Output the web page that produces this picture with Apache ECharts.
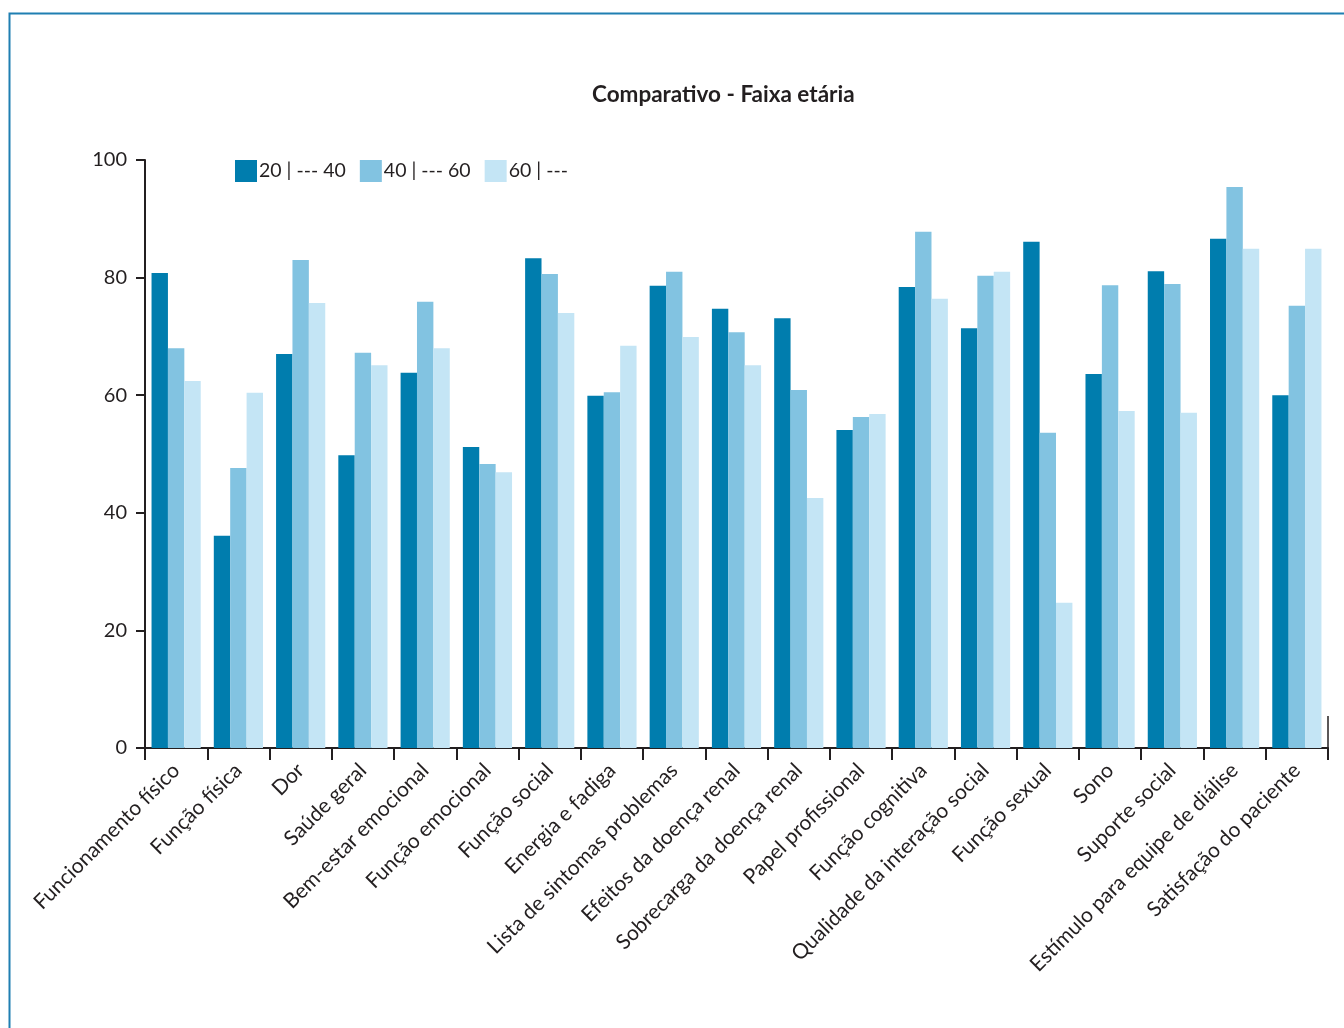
<!DOCTYPE html>
<html>
<head>
<meta charset="utf-8">
<script src="https://cdn.jsdelivr.net/npm/echarts@6/dist/echarts.min.js"></script>
<style>
html,body{margin:0;padding:0;background:#fff;}
#chart{width:1344px;height:1028px;}
</style>
</head>
<body>
<div id="chart"></div>
<script>
const categories = [
  'Funcionamento físico', 'Função física', 'Dor', 'Saúde geral', 'Bem-estar emocional',
  'Função emocional', 'Função social', 'Energia e fadiga', 'Lista de sintomas problemas',
  'Efeitos da doença renal', 'Sobrecarga da doença renal', 'Papel profissional',
  'Função cognitiva', 'Qualidade da interação social', 'Função sexual', 'Sono',
  'Suporte social', 'Estímulo para equipe de diálise', 'Satisfação do paciente'
];
const seriesNames = ['20 | --- 40', '40 | --- 60', '60 | ---'];
const age20to40 = [80.8, 36.1, 67.0, 49.8, 63.8, 51.2, 83.3, 59.9, 78.6, 74.7, 73.1, 54.1, 78.4, 71.4, 86.1, 63.6, 81.1, 86.6, 60.0];
const age40to60 = [68.0, 47.6, 83.0, 67.2, 75.9, 48.3, 80.6, 60.5, 81.0, 70.7, 60.9, 56.3, 87.8, 80.3, 53.6, 78.7, 78.9, 95.4, 75.2];
const age60plus = [62.4, 60.4, 75.7, 65.1, 68.0, 46.9, 74.0, 68.4, 69.9, 65.1, 42.5, 56.8, 76.4, 81.0, 24.7, 57.3, 57.0, 84.9, 84.9];
const yTicks = [0, 20, 40, 60, 80, 100];

const colors = ['#007DAE', '#82C3E1', '#C4E5F5'];
const font = 'Lato, "Open Sans", sans-serif';
const textColor = '#231f20';
const axisColor = '#231f20';

const chart = echarts.init(document.getElementById('chart'), null, {renderer: 'canvas'});
const seriesData = [age20to40, age40to60, age60plus];
chart.setOption({
  animation: false,
  backgroundColor: '#ffffff',
  title: {
    text: 'Comparativo - Faixa etária',
    left: 587,
    top: 78,
    textStyle: {fontFamily: font, fontSize: 22.5, fontWeight: 'bold', color: textColor}
  },
  legend: {
    data: seriesNames,
    left: 230,
    top: 155,
    itemWidth: 22,
    itemHeight: 22,
    itemGap: 14,
    icon: 'rect',
    textStyle: {fontFamily: font, fontSize: 19.5, color: textColor, padding: [0, 0, 0, -3]}
  },
  grid: {left: 145, right: 16, top: 160, bottom: 280, containLabel: false},
  xAxis: {
    type: 'category',
    data: categories,
    axisLine: {show: true, lineStyle: {color: axisColor, width: 2}},
    axisTick: {show: true, length: 12, alignWithLabel: false, lineStyle: {color: axisColor, width: 2}},
    axisLabel: {
      rotate: 45, interval: 0, margin: 19,
      fontFamily: font, fontSize: 21, color: textColor
    },
    splitLine: {show: false}
  },
  yAxis: {
    type: 'value',
    min: 0, max: 100, interval: 20,
    axisLine: {show: true, lineStyle: {color: axisColor, width: 2}},
    axisTick: {show: true, length: 9, lineStyle: {color: axisColor, width: 2}},
    axisLabel: {
      margin: 18, fontFamily: font, fontSize: 20, color: textColor,
      formatter: v => yTicks.includes(v) ? String(v) : ''
    },
    splitLine: {show: false}
  },
  series: seriesData.map((d, i) => ({
    name: seriesNames[i],
    type: 'bar',
    data: d,
    barGap: '0%',
    barCategoryGap: '21%',
    itemStyle: {color: colors[i]}
  })),
  graphic: [{
    type: 'polyline',
    shape: {points: [[9.5, 1028], [9.5, 13.5], [1344, 13.5]]},
    style: {stroke: '#1f7fb2', lineWidth: 2, fill: null},
    silent: true
  }, {
    type: 'line',
    shape: {x1: 1328, y1: 716, x2: 1328, y2: 748},
    style: {stroke: axisColor, lineWidth: 1.5},
    silent: true
  }]
});
</script>
</body>
</html>
